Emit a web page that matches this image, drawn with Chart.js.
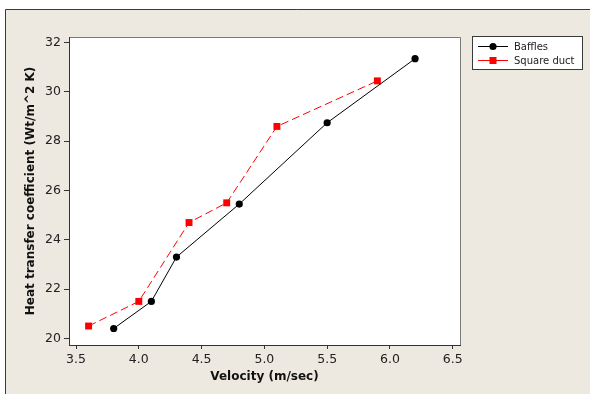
<!DOCTYPE html>
<html>
<head>
<meta charset="utf-8">
<script src="https://cdn.jsdelivr.net/npm/chart.js@4"></script>
<style>
html,body{margin:0;padding:0;background:#fff;}
canvas{display:block;}
</style>
</head>
<body>
<canvas id="c" width="590" height="394"></canvas>
<script>
const bafflesX = [3.8, 4.1, 4.3, 4.8, 5.5, 6.2];
const bafflesY = [20.4, 21.5, 23.3, 25.45, 28.75, 31.35];
const squareX = [3.6, 4.0, 4.4, 4.7, 5.1, 5.9];
const squareY = [20.5, 21.5, 24.7, 25.5, 28.6, 30.45];
const xTicks = [3.5, 4.0, 4.5, 5.0, 5.5, 6.0, 6.5];
const xTickLabels = ['3.5', '4.0', '4.5', '5.0', '5.5', '6.0', '6.5'];
const yTicks = [20, 22, 24, 26, 28, 30, 32];
const yTickLabels = ['20', '22', '24', '26', '28', '30', '32'];
const seriesNames = ['Baffles', 'Square duct'];
const xTitle = 'Velocity (m/sec)';
const yTitle = 'Heat transfer coefficient (Wt/m^2 K)';

const BEIGE = '#EDE9E0';

const bgPlugin = {
  id: 'bg',
  beforeDraw(chart) {
    const ctx = chart.ctx;
    const a = chart.chartArea;
    ctx.save();
    ctx.fillStyle = '#ffffff';
    ctx.fillRect(0, 0, chart.width, chart.height);
    ctx.fillStyle = BEIGE;
    ctx.fillRect(5, 9, chart.width, chart.height);
    ctx.strokeStyle = '#3a3a3a';
    ctx.lineWidth = 1;
    ctx.beginPath();
    ctx.moveTo(5.5, chart.height);
    ctx.lineTo(5.5, 9.5);
    ctx.lineTo(chart.width, 9.5);
    ctx.stroke();
    ctx.fillStyle = '#ffffff';
    ctx.fillRect(a.left, a.top, a.right - a.left, a.bottom - a.top);
    ctx.strokeStyle = '#7a7a7a';
    ctx.beginPath();
    ctx.moveTo(a.left, a.top + 0.5);
    ctx.lineTo(a.right + 0.5, a.top + 0.5);
    ctx.lineTo(a.right + 0.5, a.bottom);
    ctx.stroke();
    ctx.restore();
  },
  afterDraw(chart) {
    const ctx = chart.ctx;
    ctx.save();
    const bx = 472.5, by = 36.5, bw = 110, bh = 33;
    ctx.fillStyle = '#ffffff';
    ctx.fillRect(bx, by, bw, bh);
    ctx.strokeStyle = '#3a3a3a';
    ctx.lineWidth = 1;
    ctx.strokeRect(bx, by, bw, bh);
    const rows = [46, 60];
    ctx.font = '10px "DejaVu Sans"';
    ctx.textBaseline = 'middle';
    ctx.textAlign = 'left';
    chart.data.datasets.forEach((ds, i) => {
      const y = rows[i];
      ctx.strokeStyle = ds.borderColor;
      ctx.lineWidth = 1;
      ctx.setLineDash([]);
      ctx.beginPath();
      ctx.moveTo(478, y + 0.5);
      ctx.lineTo(508, y + 0.5);
      ctx.stroke();
      ctx.fillStyle = ds.pointBackgroundColor;
      if (ds.pointStyle === 'rect') {
        ctx.fillRect(493 - 3.5, y - 3, 7, 7);
      } else {
        ctx.beginPath();
        ctx.arc(493, y + 0.5, 3.6, 0, Math.PI * 2);
        ctx.fill();
      }
      ctx.fillStyle = '#222';
      ctx.fillText(ds.label, 514, y + 1);
    });
    ctx.restore();
  }
};

new Chart(document.getElementById('c'), {
  type: 'scatter',
  data: {
    datasets: [
      {
        label: seriesNames[0],
        data: bafflesX.map((x, i) => ({x: x, y: bafflesY[i]})),
        showLine: true,
        borderColor: '#000000',
        backgroundColor: '#000000',
        pointBackgroundColor: '#000000',
        pointBorderColor: '#000000',
        borderWidth: 1,
        pointRadius: 3.6,
        pointBorderWidth: 0,
        pointStyle: 'circle'
      },
      {
        label: seriesNames[1],
        data: squareX.map((x, i) => ({x: x, y: squareY[i]})),
        showLine: true,
        borderColor: '#FF0000',
        backgroundColor: '#FF0000',
        pointBackgroundColor: '#FF0000',
        pointBorderColor: '#FF0000',
        borderWidth: 1,
        borderDash: [8, 4],
        pointRadius: 4.9,
        pointBorderWidth: 0,
        pointStyle: 'rect'
      }
    ]
  },
  options: {
    responsive: false,
    animation: false,
    devicePixelRatio: 1,
    layout: {padding: {left: 0, top: 37, right: 130, bottom: 0}},
    plugins: {legend: {display: false}, tooltip: {enabled: false}},
    scales: {
      x: {
        type: 'linear',
        min: 3.444,
        max: 6.558,
        afterBuildTicks(s) { s.ticks = xTicks.map(v => ({value: v})); },
        afterFit(s) { s.height = 49; },
        grid: {drawOnChartArea: false, drawTicks: true, tickLength: 4, color: '#333'},
        border: {display: true, color: '#333', width: 1},
        ticks: {
          padding: 3,
          color: '#222',
          font: {family: 'DejaVu Sans', size: 12.5},
          maxRotation: 0,
          autoSkip: false,
          callback: (v, i) => xTickLabels[i]
        },
        title: {
          display: true,
          text: xTitle,
          color: '#111',
          font: {family: 'DejaVu Sans', size: 12, weight: 'bold'},
          padding: {top: 0, bottom: 10}
        }
      },
      y: {
        type: 'linear',
        min: 19.73,
        max: 32.23,
        afterBuildTicks(s) { s.ticks = yTicks.map(v => ({value: v})); },
        afterFit(s) { s.width = 69; },
        grid: {drawOnChartArea: false, drawTicks: true, tickLength: 5, color: '#333'},
        border: {display: true, color: '#333', width: 1},
        ticks: {
          padding: 3,
          color: '#222',
          font: {family: 'DejaVu Sans', size: 12.5},
          autoSkip: false,
          callback: (v, i) => yTickLabels[i]
        },
        title: {
          display: true,
          text: yTitle,
          color: '#111',
          font: {family: 'DejaVu Sans', size: 12, weight: 'bold'},
          padding: {top: 24, bottom: 0}
        }
      }
    }
  },
  plugins: [bgPlugin]
});
</script>
</body>
</html>
